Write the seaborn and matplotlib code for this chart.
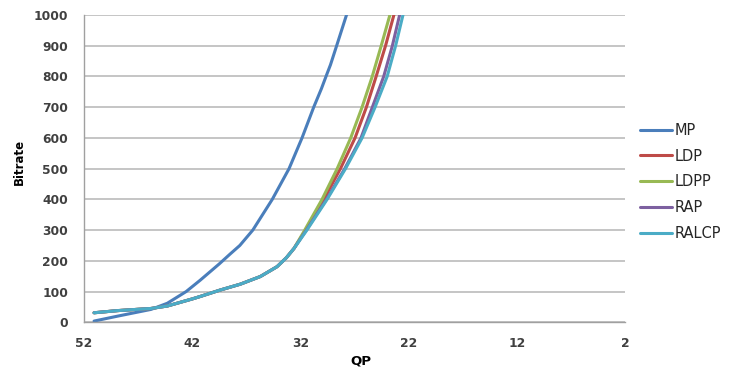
import matplotlib
matplotlib.use("Agg")
import matplotlib.pyplot as plt
import seaborn as sns
import pandas as pd

# ---- data ----
series_names = ["MP", "LDP", "LDPP", "RAP", "RALCP"]
colors = ["#4A7EBB", "#BE4B48", "#98B954", "#7D60A0", "#4BACC6"]

mp_qp = [51.07, 48.9, 45.8, 44.3, 42.56, 41.26, 39.5, 38.5, 37.6, 36.4, 34.6, 33.05, 31.85, 30.77, 30.06, 29.58, 29.22, 28.65, 27.74, 27.45]
mp_rate = [4, 20, 42, 62, 100, 137, 190, 222, 250, 300, 400, 500, 600, 700, 760, 805, 838, 900, 1000, 1030]

ldp_qp = [51.07, 48.9, 45.8, 44.3, 42.0, 41.26, 39.41, 37.56, 35.7, 34.16, 33.3, 32.6, 31.5, 29.85, 28.3, 26.95, 25.9, 25.0, 24.13, 23.36, 23.0]
ldp_rate = [31, 38, 45, 53, 76, 84, 105, 124, 149, 181, 210, 240, 300, 400, 500, 600, 700, 800, 900, 1000, 1050]

ldpp_qp = [51.07, 48.9, 45.8, 44.3, 42.0, 41.26, 39.41, 37.56, 35.7, 34.16, 33.3, 32.6, 31.6, 30.0, 28.6, 27.35, 26.3, 25.36, 24.53, 23.73, 23.4]
ldpp_rate = [31, 38, 45, 53, 76, 84, 105, 124, 149, 181, 210, 240, 300, 400, 500, 600, 700, 800, 900, 1000, 1050]

rap_qp = [51.07, 48.9, 45.8, 44.3, 42.0, 41.26, 39.41, 37.56, 35.7, 34.16, 33.3, 32.6, 31.45, 29.6, 27.9, 26.4, 25.35, 24.3, 23.5, 22.83, 22.5]
rap_rate = [31, 38, 45, 53, 76, 84, 105, 124, 149, 181, 210, 240, 300, 400, 500, 600, 700, 800, 900, 1000, 1050]

ralcp_qp = [51.07, 48.9, 45.8, 44.3, 42.0, 41.26, 39.41, 37.56, 35.7, 34.16, 33.3, 32.6, 31.4, 29.53, 27.83, 26.3, 25.1, 23.98, 23.2, 22.52, 22.2]
ralcp_rate = [31, 38, 45, 53, 76, 84, 105, 124, 149, 181, 210, 240, 300, 400, 500, 600, 700, 800, 900, 1000, 1050]

x_ticks = [52, 42, 32, 22, 12, 2]
y_ticks = [0, 100, 200, 300, 400, 500, 600, 700, 800, 900, 1000]

# ---- build long table ----
frames = []
for name, q, r in zip(series_names,
                      [mp_qp, ldp_qp, ldpp_qp, rap_qp, ralcp_qp],
                      [mp_rate, ldp_rate, ldpp_rate, rap_rate, ralcp_rate]):
    frames.append(pd.DataFrame({"QP": q, "Bitrate": r, "Series": name}))
df = pd.concat(frames, ignore_index=True)

sns.set_style("white")
plt.rcParams["font.family"] = ["DejaVu Sans"]

fig = plt.figure(figsize=(7.39, 3.73), dpi=100)
ax = fig.add_axes([84 / 739, 1 - 322.3 / 373, (625 - 84) / 739, (322.3 - 15) / 373])

sns.lineplot(data=df, x="QP", y="Bitrate", hue="Series", hue_order=series_names,
             palette=colors, sort=False, estimator=None, linewidth=2.2, ax=ax,
             legend=True)

ax.set_xlim(52, 2)
ax.set_ylim(0, 1000)
ax.set_xticks(x_ticks)
ax.set_yticks(y_ticks)
ax.set_xticklabels([str(v) for v in x_ticks], fontweight="bold")
ax.set_yticklabels([str(v) for v in y_ticks], fontweight="bold")

ax.yaxis.grid(True, color="#C0C0C0", linewidth=1.3)
ax.xaxis.grid(False)
for s in ["top", "right"]:
    ax.spines[s].set_visible(False)
for s in ["left", "bottom"]:
    ax.spines[s].set_color("#A0A0A0")
    ax.spines[s].set_linewidth(1.0)

ax.tick_params(axis="both", which="major", direction="out", length=3.5, width=1,
               color="#A0A0A0", labelsize=8.8, labelcolor="#404040")
ax.tick_params(axis="y", pad=8)
ax.tick_params(axis="x", pad=7)

ax.set_xlabel("QP", fontsize=9.5, fontweight="bold", color="black")
ax.set_ylabel("Bitrate", fontsize=8.5, fontweight="bold", color="black")
ax.xaxis.set_label_coords((361 - 84) / (625 - 84), -(361 - 322.3) / (322.3 - 15), transform=ax.transAxes)
ax.yaxis.set_label_coords(-(84 - 19) / (625 - 84), (322.3 - 162) / (322.3 - 15), transform=ax.transAxes)
ax.xaxis.label.set_va("center")
ax.yaxis.label.set_va("center")

handles, labels = ax.get_legend_handles_labels()
leg = ax.legend(handles, labels, loc="center left", bbox_to_anchor=(627 / 739, 1 - 182 / 373),
                bbox_transform=fig.transFigure, frameon=False, fontsize=10.5,
                handlelength=2.2, handletextpad=0.15, labelspacing=0.75)
for text in leg.get_texts():
    text.set_color("#262626")
for line in leg.get_lines():
    line.set_linewidth(2.2)

fig.savefig("out.png", dpi=100)
